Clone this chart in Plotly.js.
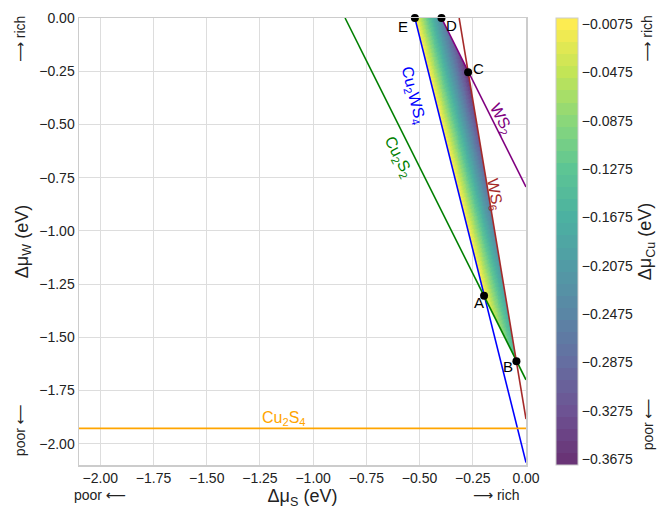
<!DOCTYPE html>
<html><head><meta charset="utf-8">
<script src="https://cdn.plot.ly/plotly-3.0.1.min.js"></script>
<style>html,body{margin:0;padding:0;background:#fff}</style>
</head><body>
<div id="chart" style="width:672px;height:509px"></div>
<script>
// ---- data ----
const pointLabels = ['A', 'B', 'C', 'D', 'E'];
const pointX = [-0.197, -0.045, -0.272, -0.397, -0.522];
const pointY = [-1.305, -1.612, -0.255, 0.0, 0.0];

const lineNames = ['Cu2WS4', 'Cu2S2', 'WS2', 'WS6', 'Cu2S4'];
const lineX0 = [-0.522, -0.850, -0.397, -0.314, -2.10];
const lineY0 = [0.0, 0.0, 0.0, 0.0, -1.928];
const lineX1 = [0.0, 0.0, 0.0, 0.0, 0.0];
const lineY1 = [-2.088, -1.700, -0.794, -1.884, -1.928];

const labelText = ['Cu<sub>2</sub>WS<sub>4</sub>', 'Cu<sub>2</sub>S<sub>2</sub>', 'WS<sub>2</sub>', 'WS<sub>6</sub>', 'Cu<sub>2</sub>S<sub>4</sub>'];
const labelX = [-0.530, -0.600, -0.117, -0.150, -1.139];
const labelY = [-0.363, -0.656, -0.476, -0.830, -1.882];

// stable region polygon (E -> D -> C -> B -> A) and Cu2WS4 formation energy
const regionOrder = ['E', 'D', 'C', 'B', 'A'];
const H_Cu2WS4 = -2.088;

const axisTicks = [-2.0, -1.75, -1.5, -1.25, -1.0, -0.75, -0.5, -0.25, 0.0];
const cbTicks = [-0.3675, -0.3275, -0.2875, -0.2475, -0.2075, -0.1675, -0.1275, -0.0875, -0.0475, -0.0075];
const cbMin = -0.3725, cbMax = -0.0025, cbBands = 37;

// ---- styling ----
const lineColors = ['#0000ff', '#008000', '#800080', '#a52a2a', '#ffa500'];
const labelAngles = [76, 63, 63, 80, 0];
const FONT = 'Liberation Sans, Arial, DejaVu Sans, sans-serif';

// viridis anchors
const vir = [[68,1,84],[72,40,120],[62,74,137],[49,104,142],[38,130,142],[31,158,137],[53,183,121],[109,205,89],[180,222,44],[253,231,37]];
function viridis(t){
  const n = vir.length - 1; const p = Math.min(n, Math.max(0, t * n));
  const i = Math.min(n - 1, Math.floor(p)); const f = p - i;
  const c = [0,1,2].map(k => vir[i][k] + (vir[i+1][k] - vir[i][k]) * f);
  const a = 0.8; // alpha over white
  return 'rgb(' + c.map(v => Math.round(v * a + 255 * (1 - a))).join(',') + ')';
}
const colorscale = [];
for (let i = 0; i < cbBands; i++) {
  const col = viridis(i / (cbBands - 1));
  colorscale.push([i / cbBands, col]);
  colorscale.push([(i + 1) / cbBands, col]);
}

// polygon
const polyX = regionOrder.map(l => pointX[pointLabels.indexOf(l)]);
const polyY = regionOrder.map(l => pointY[pointLabels.indexOf(l)]);
function inside(x, y){
  let c = false;
  for (let i = 0, j = polyX.length - 1; i < polyX.length; j = i++) {
    if (((polyY[i] > y) !== (polyY[j] > y)) &&
        (x < (polyX[j] - polyX[i]) * (y - polyY[i]) / (polyY[j] - polyY[i]) + polyX[i])) c = !c;
  }
  return c;
}
const gx = [], gy = [];
const xmin = Math.min(...polyX) - 0.005, xmax = Math.max(...polyX) + 0.005;
const ymin = Math.min(...polyY) - 0.005, ymax = 0.0;
for (let x = xmin; x <= xmax; x += 0.0015) gx.push(x);
for (let y = ymin; y <= ymax + 1e-9; y += 0.003) gy.push(y);
const gz = gy.map(y => gx.map(x => inside(x, y) ? (H_Cu2WS4 - y - 4 * x) / 2 : null));

const traces = [];
traces.push({
  type: 'heatmap', x: gx, y: gy, z: gz, zsmooth: false,
  colorscale: colorscale, zmin: cbMin, zmax: cbMax, hoverinfo: 'skip',
  colorbar: {
    thickness: 22, len: 1, lenmode: 'fraction', x: 1.066, xanchor: 'left', xpad: 0, ypad: 0,
    y: 0.5, yanchor: 'middle', outlinecolor: '#cccccc', outlinewidth: 1,
    tickvals: cbTicks, ticktext: cbTicks.map(v => '\u2212' + Math.abs(v).toFixed(4)),
    ticks: '', tickfont: {family: FONT, size: 14, color: '#222'},
    title: {text: '\u0394\u03bc<sub>Cu</sub> (eV)', side: 'right', font: {family: FONT, size: 18, color: '#222'}}
  }
});
for (let i = 0; i < lineNames.length; i++) {
  traces.push({
    type: 'scatter', mode: 'lines', x: [lineX0[i], lineX1[i]], y: [lineY0[i], lineY1[i]],
    line: {color: lineColors[i], width: 1.6}, hoverinfo: 'skip', showlegend: false
  });
}
traces.push({
  type: 'scatter', mode: 'markers', x: pointX, y: pointY, cliponaxis: false,
  marker: {color: '#000', size: 8}, showlegend: false, hoverinfo: 'skip'
});

const annotations = [];
for (let i = 0; i < labelText.length; i++) {
  annotations.push({x: labelX[i], y: labelY[i], text: labelText[i], showarrow: false,
    xanchor: 'center', yanchor: 'middle',
    textangle: labelAngles[i], font: {family: FONT, size: 16, color: lineColors[i]}});
}
const ptLabX = [-0.22, -0.084, -0.225, -0.352, -0.577];
const ptLabY = [-1.335, -1.637, -0.236, -0.033, -0.042];
for (let i = 0; i < pointLabels.length; i++) {
  annotations.push({x: ptLabX[i], y: ptLabY[i], text: pointLabels[i], showarrow: false,
    xanchor: 'center', yanchor: 'middle',
    font: {family: FONT, size: 15, color: '#000'}});
}
const side = [
  {x: -0.132, y: 0.955, text: '\u27f6 rich', a: -90},
  {x: -0.132, y: 0.078, text: 'poor \u27f5', a: -90},
  {x: 1.272, y: 0.955, text: '\u27f6 rich', a: -90},
  {x: 1.272, y: 0.09, text: 'poor \u27f5', a: -90},
  {x: 0.048, y: -0.068, text: 'poor \u27f5', a: 0},
  {x: 0.935, y: -0.068, text: '\u27f6 rich', a: 0}
];
side.forEach(s => annotations.push({xref: 'paper', yref: 'paper', x: s.x, y: s.y, text: s.text,
  xanchor: 'center', yanchor: 'middle',
  textangle: s.a, showarrow: false, font: {family: FONT, size: 14, color: '#222'}}));

const axisCommon = {
  tickvals: axisTicks, ticktext: axisTicks.map(v => (v < 0 ? '\u2212' : '') + Math.abs(v).toFixed(2)),
  showgrid: true, gridcolor: '#dddddd', gridwidth: 1, zeroline: false,
  showline: true, linecolor: '#cccccc', linewidth: 1.5, mirror: true, ticks: '',
  tickfont: {family: FONT, size: 14, color: '#222'}
};
const layout = {
  width: 672, height: 509,
  margin: {l: 79, r: 146, t: 18, b: 44},
  paper_bgcolor: '#fff', plot_bgcolor: '#fff',
  font: {family: FONT},
  showlegend: false,
  xaxis: Object.assign({}, axisCommon, {range: [-2.1, 0], title: {text: '\u0394\u03bc<sub>S</sub> (eV)', standoff: 4, font: {family: FONT, size: 18, color: '#222'}}}),
  yaxis: Object.assign({}, axisCommon, {range: [-2.1, 0], title: {text: '\u0394\u03bc<sub>W</sub> (eV)', standoff: 6, font: {family: FONT, size: 18, color: '#222'}}}),
  annotations: annotations
};
Plotly.newPlot('chart', traces, layout, {displayModeBar: false, staticPlot: true});
</script>
</body></html>
